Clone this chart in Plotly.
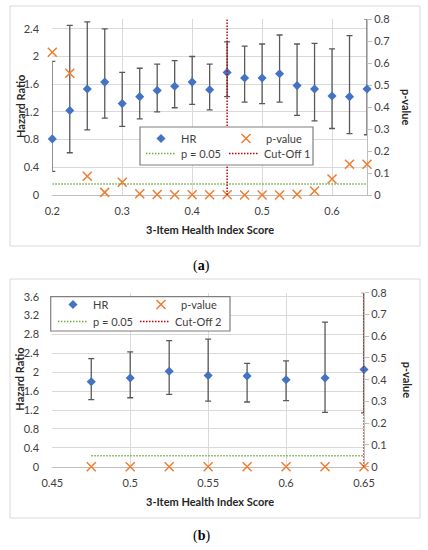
import plotly.graph_objs as go

# (a) full score range
score_a = [0.2, 0.225, 0.25, 0.275, 0.3, 0.325, 0.35, 0.375, 0.4, 0.425,
           0.45, 0.475, 0.5, 0.525, 0.55, 0.575, 0.6, 0.625, 0.65]
hr_a = [0.81, 1.22, 1.53, 1.63, 1.32, 1.42, 1.51, 1.57, 1.63, 1.52,
        1.77, 1.69, 1.69, 1.75, 1.58, 1.53, 1.43, 1.42, 1.53]
hr_a_lo = [0.34, 0.61, 0.94, 1.11, 0.99, 1.10, 1.20, 1.26, 1.31, 1.23,
           1.42, 1.34, 1.32, 1.34, 1.15, 1.07, 0.96, 0.885, 0.87]
hr_a_hi = [1.93, 2.45, 2.50, 2.40, 1.77, 1.83, 1.89, 1.94, 2.00, 1.89,
           2.21, 2.15, 2.18, 2.31, 2.18, 2.19, 2.11, 2.30, 2.54]
p_a = [0.65, 0.554, 0.085, 0.012, 0.058, 0.006, 0.002, 0.001, 0.001, 0.001,
       0.001, 0.0, 0.0, 0.0, 0.003, 0.018, 0.073, 0.14, 0.14]
cutoff_a = 0.45

# (b) scores above cut-off 1
score_b = [0.475, 0.5, 0.525, 0.55, 0.575, 0.6, 0.625, 0.65]
hr_b = [1.80, 1.88, 2.02, 1.93, 1.92, 1.84, 1.88, 2.06]
hr_b_lo = [1.42, 1.46, 1.53, 1.39, 1.37, 1.40, 1.15, 1.14]
hr_b_hi = [2.29, 2.43, 2.67, 2.70, 2.19, 2.24, 3.06, 3.685]
p_b = [0.0, 0.0, 0.0, 0.0, 0.0, 0.0, 0.0, 0.0]
cutoff_b = 0.65

p_limit = 0.05

W, H = 428, 550
FONT = "Lato"
BLUE, ORANGE, GREEN, RED = "#4472C4", "#ED7D31", "#70AD47", "#C00000"
GRID, AXIS, TXT = "#d9d9d9", "#bfbfbf", "#404040"
DOTS = "1.5px,1.5px"


def fx(px):
    return px / W


def fy(py):
    return 1 - py / H


def panel(x, hr, lo, hi, p, cut, xa, ya, ya2, legs, cut_name):
    plus = [h - m for h, m in zip(hi, hr)]
    minus = [m - l for m, l in zip(hr, lo)]
    return [
        go.Scatter(x=x, y=hr, mode="markers", name="HR", xaxis=xa, yaxis=ya,
                   legend=legs[0], cliponaxis=False, showlegend=True,
                   marker=dict(symbol="diamond", size=7, color=BLUE),
                   error_y=dict(type="data", symmetric=False, array=plus,
                                arrayminus=minus, color="#595959",
                                thickness=1.3, width=3)),
        go.Scatter(x=x, y=p, mode="markers", name="p-value", xaxis=xa,
                   yaxis=ya2, legend=legs[1], cliponaxis=False,
                   showlegend=True,
                   marker=dict(symbol="x-thin-open", size=9, color=ORANGE,
                               line=dict(color=ORANGE, width=1.5))),
        go.Scatter(x=[x[0], x[-1]], y=[p_limit, p_limit], mode="lines",
                   name="p = 0.05", xaxis=xa, yaxis=ya2, legend=legs[2],
                   showlegend=True,
                   line=dict(color=GREEN, width=1.5, dash=DOTS)),
        go.Scatter(x=[cut, cut], y=[0, 0.8], mode="lines", name=cut_name,
                   xaxis=xa, yaxis=ya2, legend=legs[3], cliponaxis=False,
                   showlegend=True,
                   line=dict(color=RED, width=1.5, dash=DOTS)),
    ]


data = (panel(score_a, hr_a, hr_a_lo, hr_a_hi, p_a, cutoff_a, "x", "y", "y2",
              ["legend", "legend2", "legend3", "legend4"], "Cut-Off 1")
        + panel(score_b, hr_b, hr_b_lo, hr_b_hi, p_b, cutoff_b, "x2", "y3",
                "y4", ["legend5", "legend6", "legend7", "legend8"],
                "Cut-Off 2"))

tickfont = dict(family=FONT, size=11, color=TXT)
xcommon = dict(showgrid=True, gridcolor=GRID, showline=True, linecolor=AXIS,
               zeroline=False, ticks="outside", ticklen=6, automargin=False,
               layer="below traces",
               tickcolor="rgba(0,0,0,0)", tickfont=tickfont)
ycommon = dict(showgrid=True, gridcolor=GRID, showline=False, zeroline=False,
               dtick=0.4, tick0=0, ticks="outside", ticklen=10,
               automargin=False, layer="below traces",
               tickcolor="rgba(0,0,0,0)", tickfont=tickfont)
y2common = dict(side="right", showgrid=False, showline=True, linecolor=AXIS,
                zeroline=False, range=[0, 0.8], dtick=0.1, tick0=0,
                automargin=False, layer="below traces",
                ticks="outside", ticklen=4, tickcolor=AXIS, tickfont=tickfont)

legfont = dict(family=FONT, size=11, color=TXT)


def leg(px, py):
    # py is the centre of the legend row
    return dict(x=fx(px), y=fy(py - 14), xanchor="left", yanchor="top",
                bgcolor="rgba(0,0,0,0)", borderwidth=0, font=legfont,
                itemwidth=30)


layout = go.Layout(
    width=W, height=H, paper_bgcolor="white", plot_bgcolor="white",
    margin=dict(l=0, r=0, t=0, b=0, pad=0, autoexpand=False),
    font=dict(family=FONT, color=TXT), showlegend=True,
    xaxis=dict(domain=[fx(52.3), fx(367)], anchor="y", range=[0.2, 0.65],
               dtick=0.1, tick0=0.2, **xcommon),
    yaxis=dict(domain=[fy(195), fy(19.3)], anchor="x", range=[0, 2.537],
               **ycommon),
    yaxis2=dict(overlaying="y", anchor="x", **y2common),
    xaxis2=dict(domain=[fx(52.3), fx(364)], anchor="y3", range=[0.45, 0.65],
                dtick=0.05, tick0=0.45, **xcommon),
    yaxis3=dict(domain=[fy(466.7), fy(292.7)], anchor="x2", range=[0, 3.685],
                **ycommon),
    yaxis4=dict(overlaying="y3", anchor="x2", **y2common),
    legend=leg(141, 138),
    legend2=leg(226, 138),
    legend3=leg(141, 153),
    legend4=leg(224, 153),
    legend5=leg(53, 304),
    legend6=leg(141, 304),
    legend7=leg(53, 321),
    legend8=leg(135, 321),
    shapes=[
        dict(type="rect", xref="paper", yref="paper", x0=fx(10), x1=fx(420),
             y0=fy(6), y1=fy(246), line=dict(color=GRID, width=1)),
        dict(type="rect", xref="paper", yref="paper", x0=fx(10), x1=fx(420),
             y0=fy(279), y1=fy(518), line=dict(color=GRID, width=1)),
        dict(type="rect", xref="paper", yref="paper", x0=fx(140), x1=fx(313),
             y0=fy(127), y1=fy(165), layer="above", fillcolor="white",
             line=dict(color="#7f7f7f", width=1.2)),
        dict(type="rect", xref="paper", yref="paper", x0=fx(50.7), x1=fx(230),
             y0=fy(296.7), y1=fy(331), layer="above", fillcolor="white",
             line=dict(color="#7f7f7f", width=1.2)),
    ],
)

fig = go.Figure(data=data, layout=layout)

title_font = dict(family=FONT, size=11, color="#262626")


def note(text, px, py, angle=0, font=title_font):
    fig.add_annotation(text=text, x=fx(px), y=fy(py), xref="paper",
                       yref="paper", textangle=angle, showarrow=False,
                       xanchor="center", yanchor="middle", font=font)


serif = dict(family="Liberation Serif", size=14, color="black")
for yc, xt_y, tag_y, tag in [(107, 229, 266, "a"), (379.7, 501, 536, "b")]:
    note("<b>Hazard Ratio</b>", 20, yc, -90)
    note("<b>p-value</b>", 407, yc, 90)
    note("<b>3-Item Health Index Score</b>", 209.6, xt_y)
    note("(<b>%s</b>)" % tag, 201, tag_y, font=serif)

# page has a default 8px body margin; drop it so the figure fills the window
fig.write_html("out.html", config={"displayModeBar": False},
               post_script="document.body.style.margin='0';")
